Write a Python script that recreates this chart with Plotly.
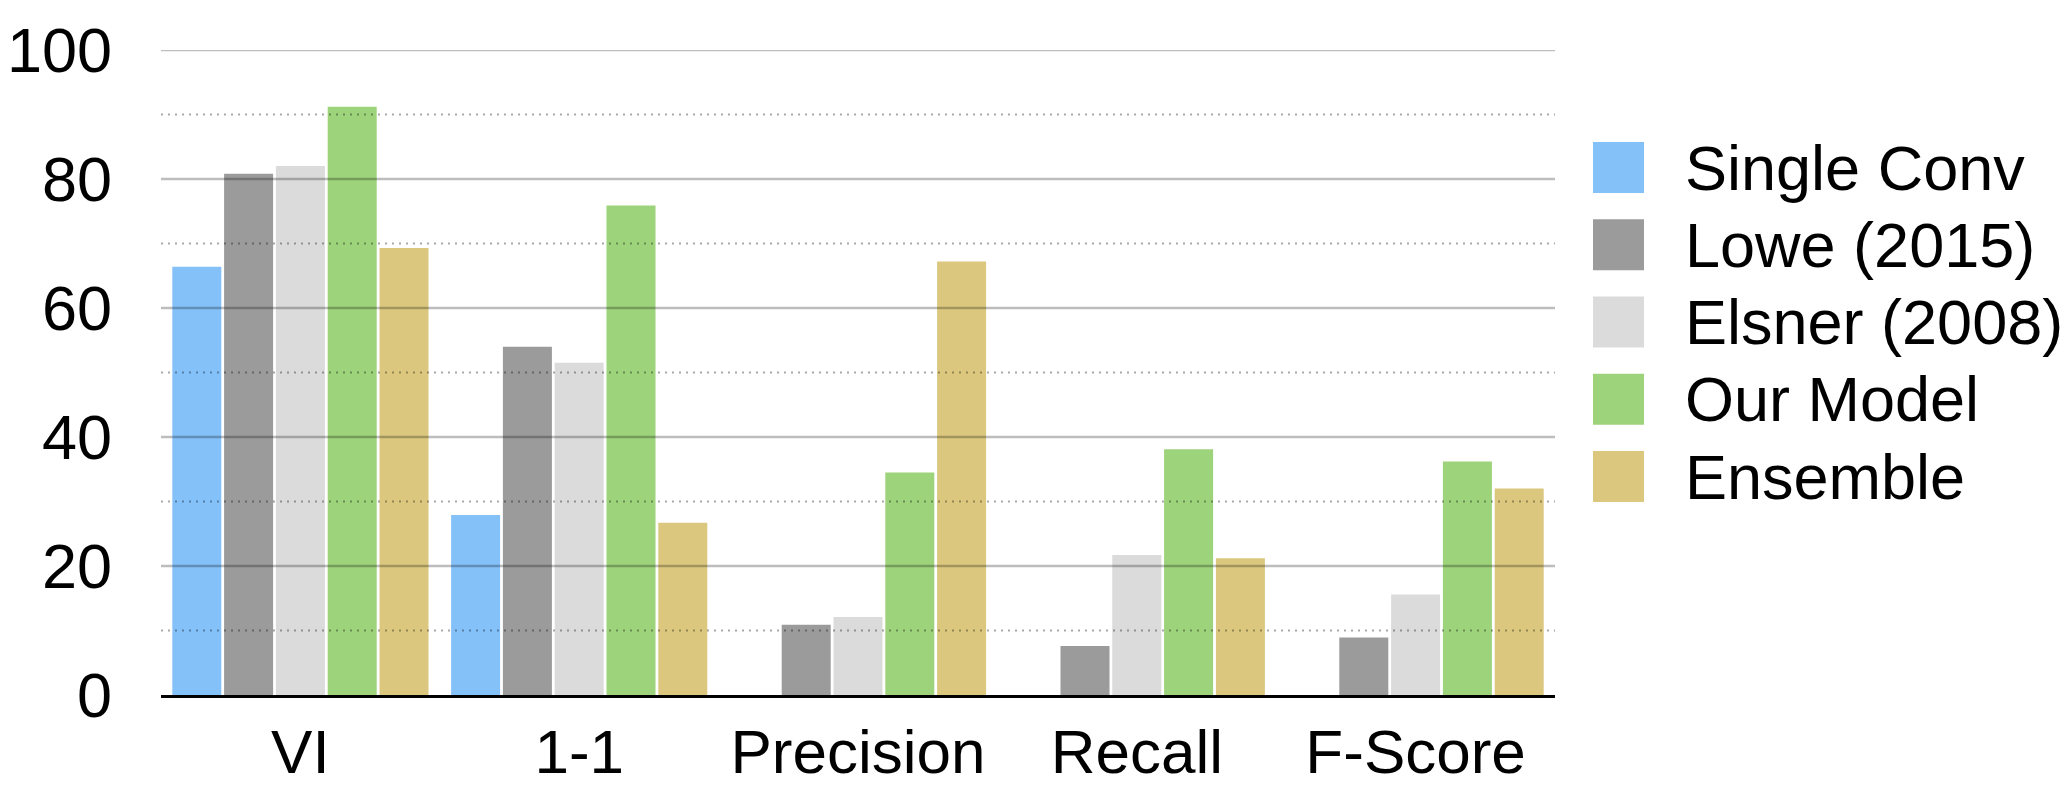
import plotly.graph_objects as go

# ---- data ----
categories = ["VI", "1-1", "Precision", "Recall", "F-Score"]
series_names = ["Single Conv", "Lowe (2015)", "Elsner (2008)", "Our Model", "Ensemble"]
single_conv = [66.4, 27.9, None, None, None]
lowe_2015 = [80.8, 54.0, 10.9, 7.6, 8.9]
elsner_2008 = [82.0, 51.5, 12.1, 21.7, 15.6]
our_model = [91.2, 75.9, 34.5, 38.1, 36.2]
ensemble = [69.3, 26.7, 67.2, 21.2, 32.0]
y_tick_vals = [0, 20, 40, 60, 80, 100]
y_tick_text = ["0", "20", "40", "60", "80", "100"]

series_values = [single_conv, lowe_2015, elsner_2008, our_model, ensemble]
colors = ["#85C1F9", "#9B9B9B", "#DBDBDB", "#9DD37B", "#DBC87E"]

# ---- layout geometry ----
W, H = 2072, 787
ML, MR, MT, MB = 161, 517, 50, 92
PW, PH = W - ML - MR, H - MT - MB
FONT = "Liberation Sans, Arial, Helvetica, sans-serif"
FS = 63
FS_X = 62


def px_x(px):
    return (px - ML) / PW


def px_y(py):
    return (H - MB - py) / PH


fig = go.Figure()
for name, vals, col in zip(series_names, series_values, colors):
    fig.add_trace(go.Bar(x=categories, y=vals, name=name,
                         marker=dict(color=col, line=dict(width=0)),
                         showlegend=False))

shapes = []
# gridlines drawn above bars (semi-transparent)
for v in range(10, 101, 10):
    if v % 20 == 0:
        shapes.append(dict(type="line", xref="paper", yref="y", x0=0, x1=1, y0=v, y1=v,
                           line=dict(color="rgba(0,0,0,0.26)", width=2.5), layer="above"))
    else:
        shapes.append(dict(type="line", xref="paper", yref="y", x0=0, x1=1, y0=v, y1=v,
                           line=dict(color="rgba(0,0,0,0.34)", width=2, dash="2px,5px"),
                           layer="above"))

# manual legend
annotations = []
sw_left, sw_size, first_center, step = 1593, 51, 167.5, 77.25
text_left = 1683
for i, (name, col) in enumerate(zip(series_names, colors)):
    cy = first_center + i * step
    shapes.append(dict(type="rect", xref="paper", yref="paper",
                       x0=px_x(sw_left), x1=px_x(sw_left + sw_size),
                       y0=px_y(cy + sw_size / 2), y1=px_y(cy - sw_size / 2),
                       fillcolor=col, line=dict(width=0)))
    annotations.append(dict(xref="paper", yref="paper", x=px_x(text_left), y=px_y(cy),
                            xanchor="left", yanchor="middle", text=name, showarrow=False,
                            font=dict(family=FONT, size=FS, color="black")))

fig.update_layout(
    width=W, height=H,
    margin=dict(l=ML, r=MR, t=MT, b=MB, pad=0, autoexpand=False),
    paper_bgcolor="white", plot_bgcolor="white",
    barmode="group", bargap=0.071, bargroupgap=0.054,
    font=dict(family=FONT, size=FS, color="black"),
    shapes=shapes, annotations=annotations,
    showlegend=False,
)
fig.update_xaxes(showgrid=False, showline=True, linecolor="black", linewidth=3,
                 ticks="", tickfont=dict(family=FONT, size=FS_X, color="black"),
                 ticklabelstandoff=1, zeroline=False, layer="above traces",
                 automargin=False)
fig.update_yaxes(range=[0, 100], showgrid=False, showline=False, zeroline=False,
                 tickvals=y_tick_vals, ticktext=y_tick_text, ticks="",
                 tickfont=dict(family=FONT, size=FS, color="black"),
                 ticklabelstandoff=48, automargin=False)

fig.write_html("out.html", config={"displayModeBar": False},
               post_script="document.body.style.margin='0';document.body.style.overflow='hidden';")
